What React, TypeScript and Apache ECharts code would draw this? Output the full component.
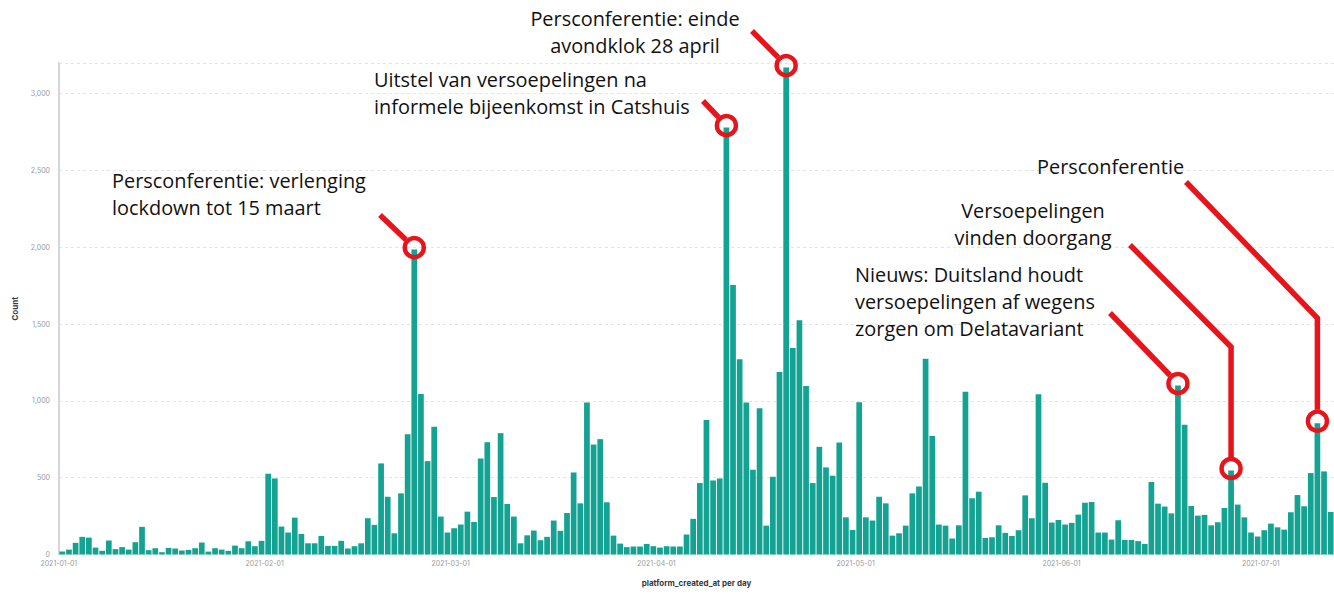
import React, { useEffect, useRef } from 'react';
import * as echarts from 'echarts';

// Daily counts, 2021-01-01 .. 2021-07-11
const countsJan = [20, 32, 76, 115, 110, 45, 24, 91, 35, 48, 32, 80, 180, 28, 41, 15, 43, 39, 26, 30, 41, 78, 19, 41, 32, 24, 58, 41, 86, 54, 89];
const countsFeb = [526, 495, 182, 143, 240, 134, 73, 73, 121, 56, 56, 89, 39, 54, 73, 236, 193, 593, 376, 138, 398, 783, 1985, 1045, 608, 831, 247, 143];
const countsMar = [171, 195, 279, 212, 625, 731, 374, 790, 329, 247, 73, 125, 156, 93, 115, 221, 154, 270, 534, 333, 989, 716, 751, 340, 123, 71, 48, 52, 52, 69, 54];
const countsApr = [45, 54, 52, 52, 130, 232, 465, 876, 482, 495, 2780, 1755, 1272, 989, 552, 952, 188, 506, 1188, 3170, 1345, 1525, 1097, 465, 701, 567, 513, 729, 242, 160];
const countsMay = [991, 242, 221, 376, 333, 123, 138, 188, 398, 443, 1275, 772, 195, 188, 104, 190, 1060, 366, 409, 108, 112, 190, 141, 121, 158, 385, 236, 1043, 467, 208, 225];
const countsJun = [195, 206, 260, 337, 342, 143, 143, 97, 223, 95, 95, 87, 69, 472, 331, 312, 268, 1100, 844, 316, 253, 258, 190, 210, 303, 547, 325, 242, 143, 117];
const countsJul = [158, 201, 177, 162, 275, 387, 314, 530, 855, 541, 277];

const counts: number[] = [...countsJan, ...countsFeb, ...countsMar, ...countsApr, ...countsMay, ...countsJun, ...countsJul];

const startDate = '2021-01-01';
const categories: string[] = counts.map((_, i) =>
  new Date(Date.parse(startDate + 'T00:00:00Z') + i * 86400000).toISOString().slice(0, 10)
);

const xTickDates = ['2021-01-01', '2021-02-01', '2021-03-01', '2021-04-01', '2021-05-01', '2021-06-01', '2021-07-01'];
const yTickInterval = 500;
const yMax = 3200;

type Annotation = {
  date: string;
  lines: string[];
  tx: number;
  ty: number;
  align: 'left' | 'center';
  from: [number, number];
  kneeY?: number;
};

const annotations: Annotation[] = [
  { date: '2021-02-23', lines: ['Persconferentie: verlenging', 'lockdown tot 15 maart'], tx: 112, ty: 187, align: 'left', from: [380, 215] },
  { date: '2021-04-11', lines: ['Uitstel van versoepelingen na', 'informele bijeenkomst in Catshuis'], tx: 374, ty: 86, align: 'left', from: [703, 101] },
  { date: '2021-04-20', lines: ['Persconferentie: einde', 'avondklok 28 april'], tx: 635, ty: 25, align: 'center', from: [752, 31] },
  { date: '2021-07-09', lines: ['Persconferentie'], tx: 1037, ty: 173, align: 'left', from: [1186, 182], kneeY: 318 },
  { date: '2021-06-26', lines: ['Versoepelingen', 'vinden doorgang'], tx: 1033, ty: 217, align: 'center', from: [1130, 245], kneeY: 347 },
  { date: '2021-06-18', lines: ['Nieuws: Duitsland houdt', 'versoepelingen af wegens', 'zorgen om Delatavariant'], tx: 855, ty: 281, align: 'left', from: [1110, 313] },
];

const RED = '#e8141c';
const FONT_SIZE = 19.9;
const LINE_H = 26.7;
const RING_R = 9.5;

export default function App() {
  const ref = useRef<HTMLDivElement>(null);

  useEffect(() => {
    if (!ref.current) return;
    const chart = echarts.init(ref.current, null, { renderer: 'svg' });
    chart.setOption({
      animation: false,
      backgroundColor: '#ffffff',
      grid: { left: 59, top: 63, width: 1278, height: 491.5, containLabel: false },
      xAxis: {
        type: 'category',
        data: categories,
        boundaryGap: true,
        axisLine: { show: false },
        axisTick: { show: false },
        axisLabel: {
          interval: (_idx: number, val: string) => xTickDates.includes(val),
          fontSize: 7,
          color: '#9a9a9a',
          fontFamily: 'Inter',
          margin: 5,
          padding: [0, 7, 0, 0],
        },
        name: 'platform_created_at per day',
        nameLocation: 'middle',
        nameGap: 24,
        nameTextStyle: { fontSize: 8, fontWeight: 'bold', color: '#343741', fontFamily: 'Inter' },
      },
      yAxis: {
        type: 'value',
        min: 0,
        max: yMax,
        interval: yTickInterval,
        axisLine: { show: true, lineStyle: { color: '#d6d6d6', width: 2 } },
        axisTick: { show: false },
        axisLabel: {
          fontSize: 7,
          color: '#9a9a9a',
          fontFamily: 'Inter',
          margin: 9,
          showMaxLabel: false,
          formatter: (v: number) => (v === yMax ? '' : v.toLocaleString('en-US')),
        },
        splitLine: { show: true, lineStyle: { color: '#e4e4e4', type: [3, 3], width: 1 } },
        name: 'Count',
        nameLocation: 'middle',
        nameRotate: 90,
        nameGap: 40,
        nameTextStyle: { fontSize: 8, fontWeight: 'bold', color: '#343741', fontFamily: 'Inter' },
      },
      series: [
        {
          type: 'bar',
          data: counts,
          barCategoryGap: '14%',
          itemStyle: { color: '#14a293' },
        },
      ],
    });

    const graphics: any[] = [];
    annotations.forEach((a) => {
      const idx = categories.indexOf(a.date);
      const p = chart.convertToPixel({ gridIndex: 0 }, [idx, counts[idx]]) as number[];
      const cx = p[0];
      const cy = p[1] - 2;
      a.lines.forEach((t, i) => {
        const baseline = a.ty + i * LINE_H;
        graphics.push({
          type: 'text',
          z: 100,
          x: a.tx,
          y: baseline - FONT_SIZE * 0.32,
          style: {
            text: t,
            fill: '#111111',
            font: `${FONT_SIZE}px "Open Sans"`,
            align: a.align,
            textAlign: a.align,
            verticalAlign: 'middle',
            textVerticalAlign: 'middle',
          },
        });
      });
      let points: number[][];
      if (a.kneeY !== undefined) {
        points = [a.from, [cx, a.kneeY], [cx, cy - RING_R - 2]];
      } else {
        const dx = a.from[0] - cx;
        const dy = a.from[1] - cy;
        const len = Math.sqrt(dx * dx + dy * dy);
        const rr = RING_R + 2;
        points = [a.from, [cx + (dx / len) * rr, cy + (dy / len) * rr]];
      }
      graphics.push({
        type: 'polyline',
        z: 100,
        shape: { points },
        style: { stroke: RED, lineWidth: 5.5, fill: null, lineJoin: 'miter' },
      });
      graphics.push({
        type: 'circle',
        z: 101,
        shape: { cx, cy, r: RING_R },
        style: { stroke: RED, lineWidth: 4.5, fill: 'none' },
      });
    });
    chart.setOption({ graphic: graphics });

    return () => chart.dispose();
  }, []);

  return (
    <div
      ref={ref}
      style={{ position: 'absolute', left: 0, top: 0, width: 1334, height: 596, background: '#fff' }}
    />
  );
}
